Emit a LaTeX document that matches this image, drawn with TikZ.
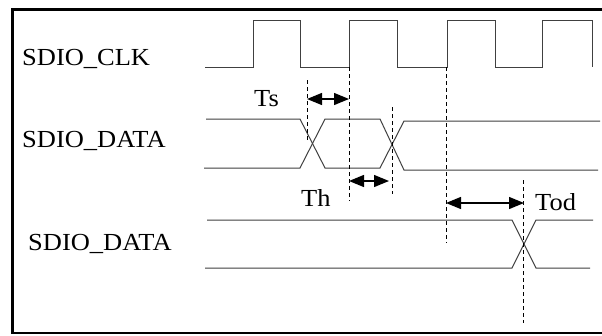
\documentclass[tikz,border=0pt]{standalone}
\usepackage{fontspec}
\setmainfont{Liberation Serif}
\usetikzlibrary{arrows.meta}
\begin{document}
\begin{tikzpicture}[x=1pt,y=-1pt,
  sig/.style={draw=black!75, line width=1pt},
  guide/.style={draw=black, line width=0.8pt, dash pattern=on 4pt off 3pt},
  dim/.style={draw=black, line width=1.3pt, {Triangle[length=15pt,width=12pt]}-{Triangle[length=15pt,width=12pt]}},
  lbl/.style={anchor=base west, inner sep=0pt, font=\fontsize{24.5}{24.5}\selectfont, xscale=1.08}]
\useasboundingbox (0,0) rectangle (602,335);
\fill[white] (0,0) rectangle (602,335);
% frame
\draw[line width=3pt] (12.5,333) -- (12.5,9.5);
\draw[line width=2.5pt] (11,9.5) -- (606,9.5);
\draw[line width=2pt] (11,333) -- (606,333);
% labels
\node[lbl] (lclk) at (22,65) {SDIO\_CLK};
\node[lbl] (ld1) at (22,147) {SDIO\_DATA};
\node[lbl] (ld2) at (28,250) {SDIO\_DATA};
\node[lbl] (lts) at (254,106) {Ts};
\node[lbl] (lth) at (301,206) {Th};
\node[lbl] (ltod) at (535,210) {Tod};
% clock
\draw[sig] (205,67) -- (253,67) -- (253,20) -- (300,20) -- (300,67) -- (349,67) -- (349,20)
  -- (397,20) -- (397,67) -- (447,67) -- (447,20) -- (495,20) -- (495,67) -- (542,67)
  -- (542,20) -- (592,20) -- (592,67);
% data 1
\draw[sig] (206,119) -- (300,119) -- (325,168) -- (380,168) -- (404,121) -- (600,121);
\draw[sig] (204,168) -- (300,168) -- (325,119) -- (380,119) -- (404,170) -- (598,170);
% data 2
\draw[sig] (207,220) -- (512,220) -- (536,268) -- (590,268);
\draw[sig] (205,268) -- (512,268) -- (536,220) -- (593,220);
% guides
\coordinate (g1t) at (307,80);  \coordinate (g1b) at (307,140);
\coordinate (g2t) at (349,67);  \coordinate (g2b) at (349,201);
\coordinate (g3t) at (392,107); \coordinate (g3b) at (392,194);
\coordinate (g4t) at (446,67);  \coordinate (g4b) at (446,243);
\coordinate (g5t) at (523,180); \coordinate (g5b) at (523,323);
\draw[guide] (g1t) -- (g1b);
\draw[guide] (g2t) -- (g2b);
\draw[guide] (g3t) -- (g3b);
\draw[guide] (g4t) -- (g4b);
\draw[guide] (g5t) -- (g5b);
% dimension arrows
\coordinate (tsa) at (307,99);  \coordinate (tsb) at (349,99);
\coordinate (tha) at (349,181); \coordinate (thb) at (389,181);
\coordinate (toa) at (446,203); \coordinate (tob) at (524,203);
\draw[dim] (tsa) -- (tsb);
\draw[dim] (tha) -- (thb);
\draw[dim] (toa) -- (tob);
\end{tikzpicture}
\end{document}
